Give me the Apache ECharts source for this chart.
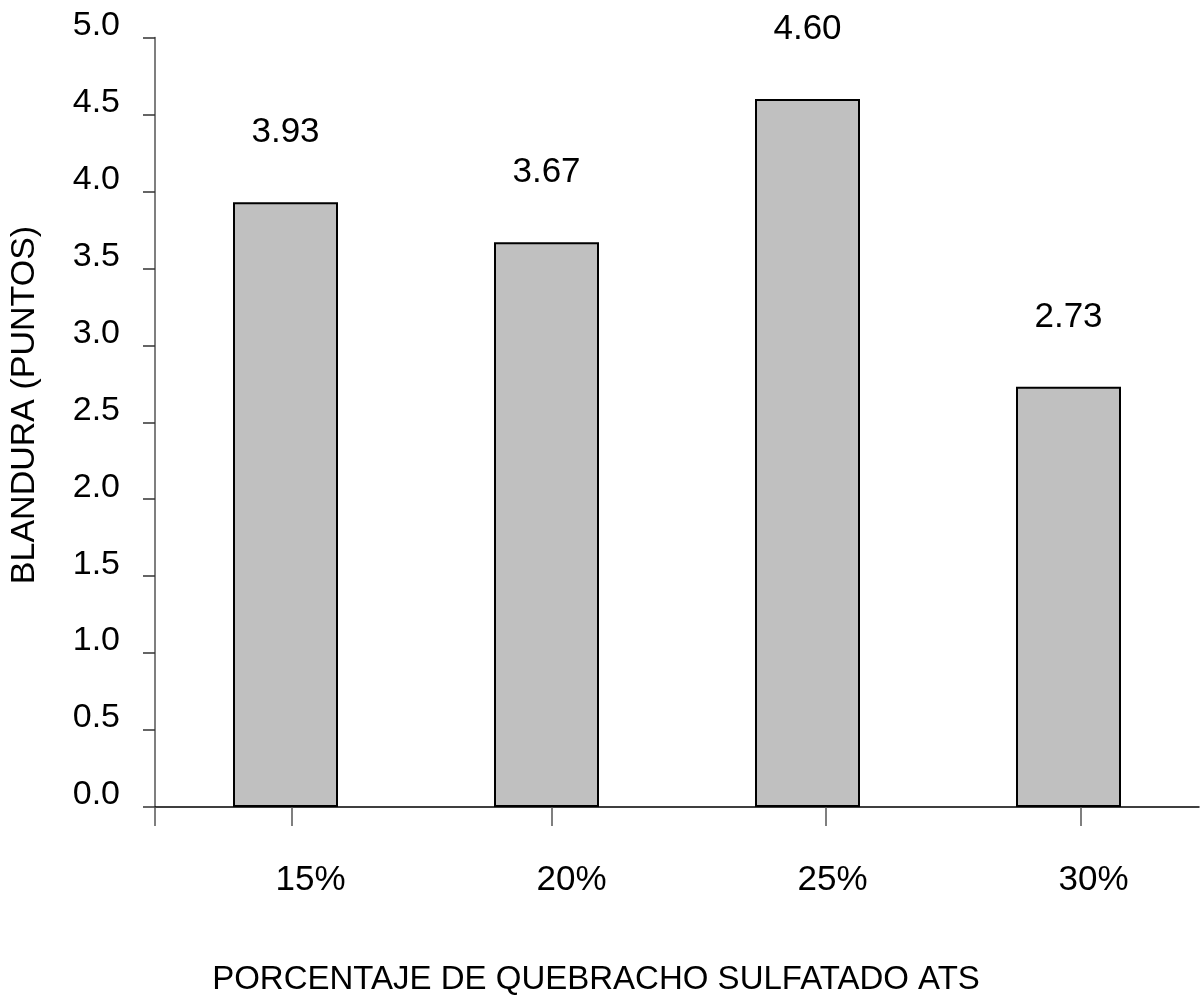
<!DOCTYPE html>
<html>
<head>
<meta charset="utf-8">
<script src="https://cdn.jsdelivr.net/npm/echarts@6/dist/echarts.min.js"></script>
<style>
  html, body { margin: 0; padding: 0; background: #fff; }
  #chart { width: 1203px; height: 998px; }
</style>
</head>
<body>
<div id="chart"></div>
<script>
// Quebracho sulfatado level vs. softness score
const categories = ['15%', '20%', '25%', '30%'];
const blandura = [3.93, 3.67, 4.60, 2.73];
const yTicks = { min: 0, max: 5, interval: 0.5 };

const FONT = "'Liberation Sans', Arial, sans-serif";

const chart = echarts.init(document.getElementById('chart'), null, { renderer: 'canvas' });

chart.setOption({
  animation: false,
  backgroundColor: '#ffffff',
  grid: { left: 155, right: 4, top: 37.5, bottom: 191, containLabel: false },
  xAxis: [
    {
      type: 'category',
      data: categories,
      boundaryGap: true,
      axisLine: { show: true, lineStyle: { color: '#000', width: 1.5 } },
      axisTick: { show: false },
      axisLabel: {
        color: '#000', fontFamily: FONT, fontSize: 35,
        margin: 56, padding: [0, 0, 0, 50]
      },
      splitLine: { show: false }
    },
    {
      // tick marks along the category axis
      type: 'value',
      position: 'bottom',
      min: 0,
      max: 4,
      axisLine: { show: false },
      axisLabel: { show: false },
      splitLine: { show: false },
      axisTick: {
        show: true,
        length: 19,
        customValues: [0, 0.524, 1.52, 2.571, 3.547],
        lineStyle: { color: '#555', width: 1.5 }
      }
    }
  ],
  yAxis: {
    type: 'value',
    min: yTicks.min,
    max: yTicks.max,
    interval: yTicks.interval,
    axisLine: { show: true, lineStyle: { color: '#555', width: 1.5 } },
    axisTick: { show: true, length: 12, lineStyle: { color: '#333', width: 1.5 } },
    axisLabel: {
      color: '#000', fontFamily: FONT, fontSize: 34, margin: 35,
      verticalAlign: 'bottom', lineHeight: 24,
      formatter: v => v.toFixed(1)
    },
    splitLine: { show: false }
  },
  graphic: [
    {
      type: 'text',
      x: 596, y: 980,
      style: {
        text: 'PORCENTAJE DE QUEBRACHO SULFATADO ATS',
        fill: '#000', font: '33px ' + FONT,
        textAlign: 'center', textVerticalAlign: 'middle'
      }
    },
    {
      type: 'text',
      x: 25, y: 405,
      rotation: Math.PI / 2,
      style: {
        text: 'BLANDURA (PUNTOS)',
        fill: '#000', font: '34px ' + FONT,
        textAlign: 'center', textVerticalAlign: 'middle'
      }
    }
  ],
  series: [{
    type: 'bar',
    xAxisIndex: 0,
    data: blandura,
    barWidth: 105,
    itemStyle: { color: '#c0c0c0', borderColor: '#000', borderWidth: 2 },
    label: {
      show: true, position: 'top', distance: 52,
      color: '#000', fontFamily: FONT, fontSize: 35,
      formatter: p => p.value.toFixed(2)
    }
  }]
});
</script>
</body>
</html>
